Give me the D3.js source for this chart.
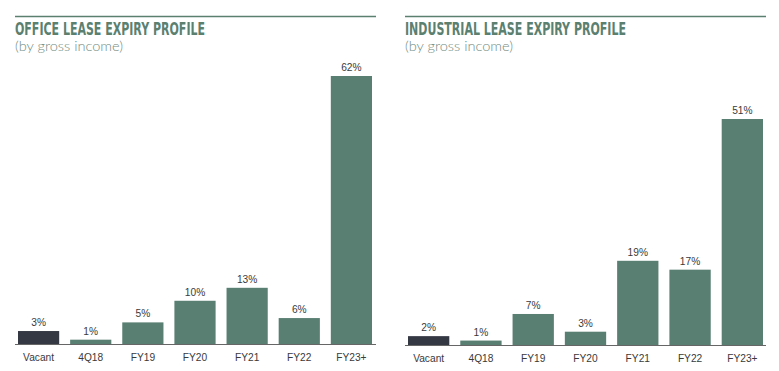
<!DOCTYPE html>
<html>
<head>
<meta charset="utf-8">
<script src="https://cdn.jsdelivr.net/npm/d3@7"></script>
<style>
  body { margin: 0; background: #fff; }
  svg { display: block; }
</style>
</head>
<body>
<svg id="chart" width="779" height="371"></svg>
<script>
// categories shared by both charts
const categories = ['Vacant', '4Q18', 'FY19', 'FY20', 'FY21', 'FY22', 'FY23+'];

// lease expiry by gross income (%)
const officeValues = [3, 1, 5, 10, 13, 6, 62];
const industrialValues = [2, 1, 7, 3, 19, 17, 51];

const titles = ['OFFICE LEASE EXPIRY PROFILE', 'INDUSTRIAL LEASE EXPIRY PROFILE'];
const subtitle = '(by gross income)';

const green = '#587f72';
const dark = '#343843';
const titleColor = '#5b8070';

const svg = d3.select('#chart');

// one panel per chart
const panels = [
  { title: titles[0], values: officeValues, left: 15, right: 376, x0: 18, x1: 372, base: 344, top: 76, titleW: 190 },
  { title: titles[1], values: industrialValues, left: 405, right: 766, x0: 408, x1: 763, base: 345, top: 119, titleW: 221 }
];

panels.forEach(p => {
  const g = svg.append('g');

  // top rule
  g.append('line')
    .attr('x1', p.left).attr('x2', p.right)
    .attr('y1', 16.5).attr('y2', 16.5)
    .attr('stroke', titleColor).attr('stroke-width', 1.5);

  g.append('text')
    .attr('x', p.left).attr('y', 34.7)
    .attr('font-family', '"Liberation Sans Narrow", "DejaVu Sans Condensed", sans-serif')
    .attr('font-weight', 'bold')
    .attr('font-size', 16.8)
    .attr('fill', titleColor)
    .attr('textLength', p.titleW)
    .attr('lengthAdjust', 'spacingAndGlyphs')
    .text(p.title);

  g.append('text')
    .attr('x', p.left).attr('y', 50.5)
    .attr('font-family', 'Lato, "Liberation Sans", sans-serif')
    .attr('font-weight', 300)
    .attr('font-size', 13.5)
    .attr('fill', '#6f8c82')
    .attr('textLength', 108)
    .attr('lengthAdjust', 'spacingAndGlyphs')
    .text(subtitle);

  const x = d3.scaleBand()
    .domain(categories)
    .range([p.x0, p.x1])
    .paddingInner(0.21)
    .paddingOuter(0);

  const y = d3.scaleLinear()
    .domain([0, d3.max(p.values)])
    .range([p.base, p.top]);

  const data = categories.map((c, i) => ({ cat: c, value: p.values[i] }));

  g.selectAll('rect')
    .data(data)
    .enter()
    .append('rect')
    .attr('x', d => x(d.cat))
    .attr('width', x.bandwidth())
    .attr('y', d => y(d.value))
    .attr('height', d => p.base - y(d.value))
    .attr('fill', d => d.cat === 'Vacant' ? dark : green);

  // value labels
  g.selectAll('text.val')
    .data(data)
    .enter()
    .append('text')
    .attr('class', 'val')
    .attr('x', d => x(d.cat) + x.bandwidth() / 2)
    .attr('y', d => y(d.value) - 5)
    .attr('text-anchor', 'middle')
    .attr('font-family', '"Liberation Sans", Arial, sans-serif')
    .attr('font-size', 10.2)
    .attr('fill', '#3a3a3a')
    .text(d => d.value + '%');

  // baseline axis
  const axis = g.append('g')
    .attr('transform', `translate(0,${p.base})`)
    .call(d3.axisBottom(x).tickSize(0).tickPadding(10));
  axis.select('.domain')
    .attr('d', `M${p.left},0.5H${p.right}`)
    .attr('stroke', '#666');
  axis.selectAll('text')
    .attr('font-family', '"Liberation Sans", Arial, sans-serif')
    .attr('font-size', 10.2)
    .attr('fill', '#3a3a3a');
});
</script>
</body>
</html>
